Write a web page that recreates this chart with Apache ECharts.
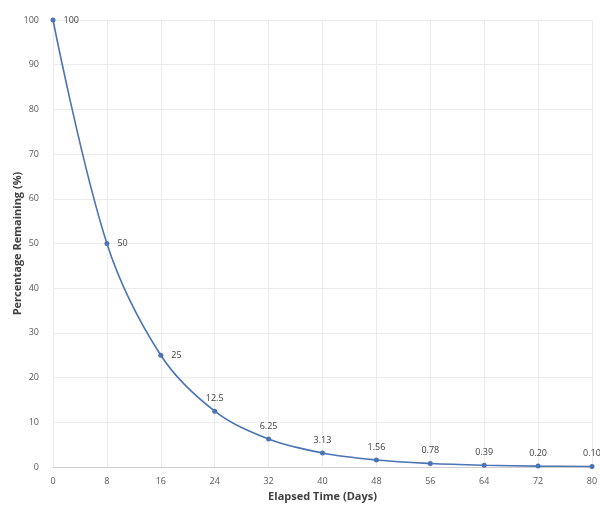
<!DOCTYPE html>
<html>
<head>
<meta charset="utf-8">
<script src="https://cdn.jsdelivr.net/npm/echarts@6/dist/echarts.min.js"></script>
<style>
  html, body { margin: 0; padding: 0; background: #fff; }
  #main { width: 600px; height: 508px; }
</style>
</head>
<body>
<div id="main"></div>
<script>
// elapsed days and % remaining (halving every 8 days)
var days = [0, 8, 16, 24, 32, 40, 48, 56, 64, 72, 80];
var remaining = [100, 50, 25, 12.5, 6.25, 3.13, 1.56, 0.78, 0.39, 0.20, 0.10];
var pointLabels = ['100', '50', '25', '12.5', '6.25', '3.13', '1.56', '0.78', '0.39', '0.20', '0.10'];

var chart = echarts.init(document.getElementById('main'));

var seriesData = days.map(function (d, i) {
  return {
    value: [d, remaining[i]],
    label: {
      // first few points have the label on the right, the rest sit above
      position: i < 3 ? 'right' : 'top',
      distance: i < 3 ? 8 : 6
    }
  };
});

var option = {
  backgroundColor: '#fff',
  textStyle: { fontFamily: 'Open Sans, Liberation Sans, sans-serif' },
  grid: {
    left: 53,
    right: 8,
    top: 20,
    bottom: 41,
    outerBoundsMode: 'none'
  },
  xAxis: {
    type: 'value',
    min: 0,
    max: 80,
    interval: 8,
    name: 'Elapsed Time (Days)',
    nameLocation: 'middle',
    nameGap: 24,
    nameTextStyle: { color: '#404040', fontSize: 11, fontWeight: 'bold' },
    axisLine: { show: true, lineStyle: { color: '#d0d0d0' } },
    axisTick: { show: false },
    axisLabel: { color: '#595959', fontSize: 9, margin: 10 },
    splitLine: { show: true, lineStyle: { color: '#ececec' } }
  },
  yAxis: {
    type: 'value',
    min: 0,
    max: 100,
    interval: 10,
    name: 'Percentage Remaining (%)',
    nameLocation: 'middle',
    nameGap: 30,
    nameMoveOverlap: false,
    nameTextStyle: { color: '#404040', fontSize: 11, fontWeight: 'bold' },
    axisLine: { show: false },
    axisTick: { show: false },
    axisLabel: { color: '#595959', fontSize: 9, margin: 14 },
    splitLine: { show: true, lineStyle: { color: '#ececec' } }
  },
  series: [
    {
      type: 'line',
      data: seriesData,
      smooth: 0.35,
      symbol: 'circle',
      symbolSize: 5,
      lineStyle: { color: '#4a74b4', width: 1.6 },
      itemStyle: { color: '#4a74b4' },
      label: {
        show: true,
        color: '#404040',
        fontSize: 9,
        formatter: function (p) {
          return pointLabels[p.dataIndex];
        }
      }
    }
  ]
};

chart.setOption(option);
</script>
</body>
</html>
